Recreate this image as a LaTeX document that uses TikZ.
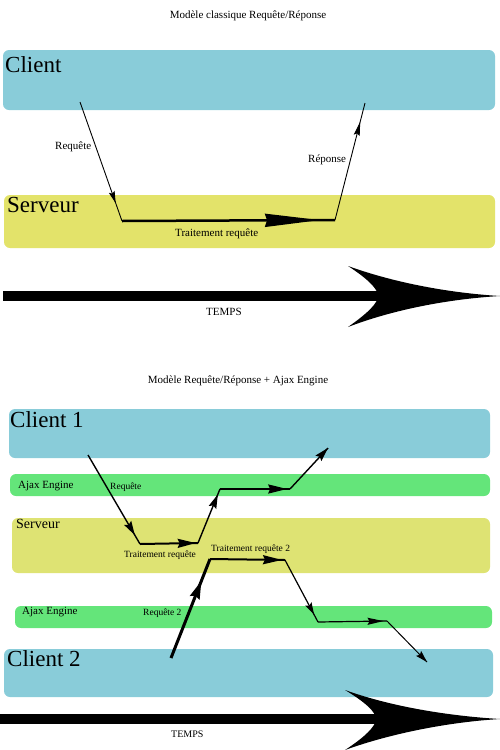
\documentclass[tikz,border=0pt]{standalone}
\usepackage{fontspec}
\setmainfont{Liberation Serif}
\usetikzlibrary{arrows.meta,decorations.markings}
\definecolor{cli}{HTML}{89CCD9}
\definecolor{srv}{HTML}{E3E36A}
\definecolor{srvb}{HTML}{DEE373}
\definecolor{ajx}{HTML}{64E57A}
\tikzset{
  lane/.style={rounded corners=6pt},
  lbl/.style={inner sep=0, anchor=base west, font=\fontsize{11}{13}\selectfont},
  slbl/.style={inner sep=0, anchor=base west, font=\fontsize{9.5}{11}\selectfont},
  biglbl/.style={inner sep=0, anchor=base west, font=\fontsize{23}{26}\selectfont},
  ttl/.style={inner sep=0, anchor=base, font=\fontsize{11}{13}\selectfont},
  marr/.style n args={3}{postaction={decorate}, decoration={markings,
      mark=at position #1 with {\arrow{Stealth[length=#2pt,width=#3pt,inset=2pt]}}}},
}
\begin{document}
\begin{tikzpicture}[x=1pt,y=-1pt]
\useasboundingbox (0,0) rectangle (500,750);

% ---------- top ----------
\node[ttl] (t1) at (248,18) {Modèle classique Requête/Réponse};
\fill[cli,lane] (3,50) rectangle (495,110);
\node[biglbl] (client) at (5,72) {Client};
\fill[srv,lane] (4,195) rectangle (495,248);
\node[biglbl] (serveur) at (7,212) {Serveur};

\coordinate (a1) at (80,102);
\coordinate (a2) at (122,221);
\coordinate (a3) at (335,220);
\coordinate (a4) at (365,103);
\draw[line width=0.9pt, marr={0.85}{12}{6}] (a1) -- (a2);
\draw[line width=2.5pt, marr={0.93}{55}{13}] (a2) -- (a3);
\draw[line width=0.9pt, marr={0.84}{14}{6}] (a3) -- (a4);
\node[lbl] (req) at (55,149) {Requête};
\node[lbl] (rep) at (308,162) {Réponse};
\node[lbl] (trt) at (175,236) {Traitement requête};

\fill (3,291) rectangle (385,301);
\fill (348,266) .. controls (395,283) and (450,293) .. (500,296)
      .. controls (450,299) and (395,309) .. (348,327)
      .. controls (368,313) and (378,303) .. (378,296)
      .. controls (378,289) and (368,279) .. (348,266) -- cycle;
\node[lbl] (temps1) at (206,315) {TEMPS};

% ---------- bottom ----------
\node[ttl] (t2) at (238,383) {Modèle Requête/Réponse + Ajax Engine};
\fill[cli,lane] (9,409) rectangle (490,458);
\node[biglbl] (client1) at (10,427) {Client 1};
\fill[ajx,lane] (10,474) rectangle (490,496);
\node[lbl] (aj1) at (18,488) {Ajax Engine};
\fill[srvb,lane] (12,518) rectangle (490,573);
\node[inner sep=0, anchor=base west, font=\fontsize{14}{16}\selectfont] (serveur2) at (16,528) {Serveur};
\fill[ajx,lane] (15,606) rectangle (492,628);
\node[lbl] (aj2) at (22,614) {Ajax Engine};
\fill[cli,lane] (4,649) rectangle (493,697);
\node[biglbl] (client2) at (7,666) {Client 2};

\coordinate (b1) at (88,455);
\coordinate (b2) at (140,544);
\coordinate (b3) at (198,543);
\coordinate (b4) at (220,489);
\coordinate (b5) at (290,489);
\coordinate (b6) at (328,448);
\draw[line width=1.4pt, marr={0.9}{14}{8}] (b1) -- (b2);
\draw[line width=2pt, marr={0.96}{18}{9}] (b2) -- (b3);
\draw[line width=1.4pt, marr={0.9}{14}{8}] (b3) -- (b4);
\draw[line width=2pt, marr={0.96}{19}{9}] (b4) -- (b5);
\draw[line width=1.4pt, marr={1}{14}{8}] (b5) -- (b6);

\coordinate (c1) at (171,658);
\coordinate (c2) at (210,559);
\coordinate (c3) at (285,560);
\coordinate (c4) at (318,622);
\coordinate (c5) at (387,621);
\coordinate (c6) at (427,662);
\draw[line width=3pt, marr={0.78}{18}{10}] (c1) -- (c2);
\draw[line width=2pt, marr={0.96}{19}{9}] (c2) -- (c3);
\draw[line width=1.2pt, marr={0.88}{12}{7}] (c3) -- (c4);
\draw[line width=1.2pt, marr={0.95}{16}{7}] (c4) -- (c5);
\draw[line width=1pt, marr={1}{12}{7}] (c5) -- (c6);

\node[slbl] (req1) at (110,489) {Requête};
\node[slbl] (trt1) at (124,557) {Traitement requête};
\node[slbl] (trt2) at (211,551) {Traitement requête 2};
\node[slbl] (req2) at (143,615) {Requête 2};

\fill (0,714) rectangle (382,724);
\fill (345,690) .. controls (392,707) and (450,716) .. (500,719)
      .. controls (450,722) and (392,733) .. (345,750)
      .. controls (365,737) and (376,726) .. (376,719)
      .. controls (376,712) and (365,702) .. (345,690) -- cycle;
\node[inner sep=0, anchor=base west, font=\fontsize{10}{12}\selectfont] (temps2) at (171,737) {TEMPS};
\end{tikzpicture}
\end{document}
